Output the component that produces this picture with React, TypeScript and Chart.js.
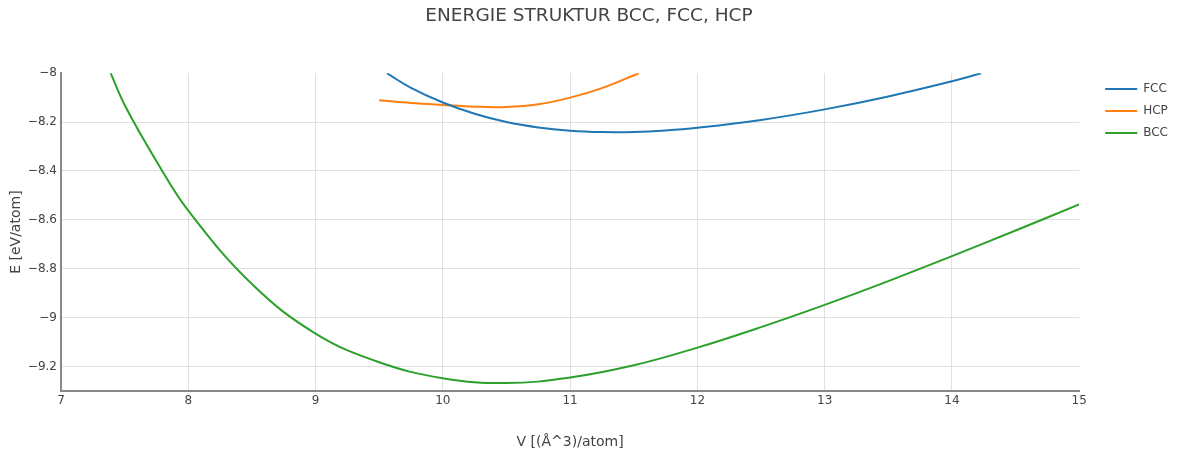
import React, { useEffect, useRef } from "react";
import { Chart, registerables } from "chart.js";

Chart.register(...registerables);

const FONT = "'DejaVu Sans', Verdana, sans-serif";

const fccV = [9.56, 9.75, 10.0, 10.25, 10.5, 10.75, 11.0, 11.25, 11.5, 11.75, 12.0, 12.5, 13.0, 13.5, 14.0, 14.23];
const fccE = [-8.0, -8.06, -8.12, -8.166, -8.2, -8.222, -8.235, -8.2405, -8.2402, -8.2342, -8.2232, -8.1912, -8.148, -8.095, -8.033, -8.0];

const hcpV = [9.5, 9.75, 10.0, 10.25, 10.5, 10.75, 11.0, 11.25, 11.54];
const hcpE = [-8.111, -8.122, -8.13, -8.137, -8.138, -8.127, -8.1, -8.061, -8.0];

const bccV = [7.39, 7.5, 7.75, 8.0, 8.5, 9.0, 9.5, 10.0, 10.5, 11.0, 11.5, 12.0, 12.5, 13.0, 13.5, 14.0, 14.5, 15.0];
const bccE = [-8.0, -8.13, -8.36, -8.5625, -8.8625, -9.065, -9.1825, -9.2475, -9.2675, -9.245, -9.195, -9.1225, -9.0385, -8.9475, -8.8505, -8.7485, -8.6435, -8.5365];

const xTicksStep = 1;
const yTicksStep = 0.2;

const toPts = (xs: number[], ys: number[]) => xs.map((x, i) => ({ x, y: ys[i] }));

const fmt = (v: number | string) => {
  const n = Math.round(Number(v) * 10) / 10;
  const s = Number.isInteger(n) ? String(n) : n.toFixed(1);
  return s.replace("-", "\u2212");
};

export default function App() {
  const ref = useRef<HTMLCanvasElement>(null);
  useEffect(() => {
    document.body.style.margin = "0";
    const canvas = ref.current!;
    const line = (label: string, xs: number[], ys: number[], color: string) => ({
      label,
      data: toPts(xs, ys),
      borderColor: color,
      backgroundColor: color,
      borderWidth: 2,
      pointRadius: 0,
      pointHoverRadius: 0,
      tension: 0.4,
      fill: false,
    });
    const chart = new Chart(canvas, {
      type: "line",
      data: {
        datasets: [
          line("FCC", fccV, fccE, "#1f77b4"),
          line("HCP", hcpV, hcpE, "#ff7f0e"),
          line("BCC", bccV, bccE, "#2ca02c"),
        ],
      },
      options: {
        animation: false,
        responsive: false,
        maintainAspectRatio: false,
        layout: { padding: 0 },
        plugins: {
          title: {
            display: true,
            text: "ENERGIE STRUKTUR BCC, FCC, HCP",
            color: "#444",
            font: { family: FONT, size: 18.5, weight: "normal" },
            padding: { top: 5, bottom: 46 },
          },
          legend: {
            display: true,
            position: "right",
            align: "start",
            title: {
              display: true,
              text: " ",
              font: { family: FONT, size: 10 },
              padding: { top: 61, bottom: 0 },
            },
            labels: {
              usePointStyle: true,
              pointStyle: "line",
              pointStyleWidth: 32,
              padding: 10,
              color: "#444",
              font: { family: FONT, size: 12 },
            },
          },
          tooltip: { enabled: false },
        },
        scales: {
          x: {
            type: "linear",
            min: 7,
            max: 15,
            ticks: {
              stepSize: xTicksStep,
              padding: 3,
              color: "#444",
              font: { family: FONT, size: 12 },
              callback: (v: any) => fmt(v),
            },
            grid: {
              color: (c: any) => (c.tick && (c.tick.value === 15 || c.tick.value === 7) ? "rgba(0,0,0,0)" : "#e0e0e0"),
              drawTicks: false,
              lineWidth: 1,
            },
            border: { display: true, color: "#888", width: 2 },
            title: {
              display: true,
              text: "V [(Å^3)/atom]",
              color: "#444",
              font: { family: FONT, size: 14 },
              padding: { top: 0, bottom: 4 },
            },
            afterFit: (s: any) => {
              s.height = 64;
            },
          },
          y: {
            type: "linear",
            min: -9.3,
            max: -8,
            ticks: {
              stepSize: yTicksStep,
              includeBounds: false,
              padding: 4,
              color: "#444",
              font: { family: FONT, size: 12 },
              callback: (v: any) => fmt(v),
            },
            grid: {
              color: (c: any) => (c.tick && c.tick.value === -8 ? "rgba(0,0,0,0)" : "#e0e0e0"),
              drawTicks: false,
              lineWidth: 1,
            },
            border: { display: true, color: "#888", width: 2 },
            title: {
              display: true,
              text: "E [eV/atom]",
              color: "#444",
              font: { family: FONT, size: 14 },
              padding: { top: 8, bottom: 0 },
            },
            afterFit: (s: any) => {
              s.width = 61;
            },
          },
          gap: {
            type: "linear",
            position: "right",
            display: true,
            ticks: { display: false },
            grid: { display: false },
            border: { display: false },
            afterFit: (s: any) => {
              s.width = 16;
            },
          },
        },
      } as any,
    });
    return () => chart.destroy();
  }, []);
  return (
    <div style={{ width: 1178, height: 455 }}>
      <canvas ref={ref} width={1178} height={455} style={{ display: "block" }} />
    </div>
  );
}
